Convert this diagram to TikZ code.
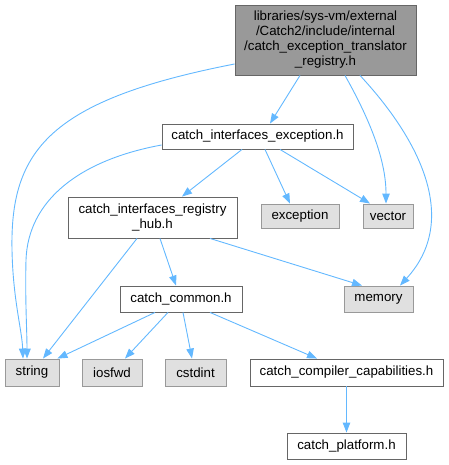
\documentclass[tikz,border=0pt]{standalone}
\usepackage{fontspec}
\setmainfont{Liberation Sans}
\usetikzlibrary{arrows.meta}
\definecolor{edgecol}{HTML}{63B8FF}
\definecolor{topfill}{HTML}{999999}
\definecolor{darkborder}{HTML}{666666}
\definecolor{grayfill}{HTML}{E0E0E0}
\definecolor{grayborder}{HTML}{999999}
\begin{document}
\begin{tikzpicture}[x=1pt,y=-1pt,
  box/.style={draw=darkborder,fill=white,line width=0.9pt,inner sep=0pt,align=center,
    font=\fontsize{13.3}{15}\selectfont,text=black},
  sysbox/.style={box,draw=grayborder,fill=grayfill},
  topbox/.style={box,draw=darkborder,fill=topfill},
  dep/.style={draw=edgecol,line width=0.9pt,-{Triangle[length=10pt,width=7.5pt]}}]
\useasboundingbox (0,0) rectangle (448,465);
\node[topbox,minimum width=181pt,minimum height=70pt] (top) at (325.5,40)
  {libraries/sys-vm/external\\/Catch2/include/internal\\/catch\_exception\_translator\\\_registry.h};
\node[box,minimum width=191pt,minimum height=25pt] (cie) at (257.5,136.5) {catch\_interfaces\_exception.h};
\node[box,minimum width=169pt,minimum height=41pt] (hub) at (152.5,217.5) {catch\_interfaces\_registry\\\_hub.h};
\node[sysbox,minimum width=78pt,minimum height=24pt] (exc) at (300,216) {exception};
\node[sysbox,minimum width=50pt,minimum height=24pt] (vec) at (388,216) {vector};
\node[sysbox,minimum width=69pt,minimum height=26pt] (mem) at (378.5,299) {memory};
\node[box,minimum width=122pt,minimum height=26pt] (common) at (181,299) {catch\_common.h};
\node[sysbox,minimum width=54pt,minimum height=27pt] (string) at (32,372.5) {string};
\node[sysbox,minimum width=60pt,minimum height=27pt] (iosfwd) at (112,372.5) {iosfwd};
\node[sysbox,minimum width=61pt,minimum height=27pt] (cstdint) at (195.5,372.5) {cstdint};
\node[box,minimum width=193pt,minimum height=27pt] (comp) at (346.5,372.5) {catch\_compiler\_capabilities.h};
\node[box,minimum width=119pt,minimum height=26pt] (plat) at (346.5,446) {catch\_platform.h};

\draw[dep] ([xshift=-25.5pt]top.south) -- ([xshift=12.5pt]cie.north);
\draw[dep] ([yshift=-24pt]top.west) .. controls (50,100) and (10,150) .. (12,250)
  .. controls (13,300) and (22,330) .. ([xshift=-9pt]string.north);
\draw[dep] ([xshift=19.5pt]top.south) .. controls (370,120) and (386,160) .. ([xshift=-2pt]vec.north);
\draw[dep] ([xshift=34.5pt]top.south) .. controls (420,140) and (460,220) .. ([xshift=21.5pt]mem.north);
\draw[dep] ([yshift=-8.5pt]cie.west) .. controls (80,160) and (28,200) .. (26,260)
  .. controls (25,300) and (27,330) .. ([xshift=-5pt]string.north);
\draw[dep] ([xshift=-15.5pt]cie.south) -- ([xshift=29.5pt]hub.north);
\draw[dep] ([xshift=7.5pt]cie.south) -- ([xshift=-10pt]exc.north);
\draw[dep] ([xshift=22.5pt]cie.south) -- ([xshift=-18pt]vec.north);
\draw[dep] ([xshift=-15.5pt]hub.south) -- ([xshift=11pt]string.north);
\draw[dep] ([xshift=7.5pt]hub.south) -- ([xshift=-5pt]common.north);
\draw[dep] ([xshift=57.5pt]hub.south) -- ([xshift=-16.5pt]mem.north);
\draw[dep] ([xshift=-26pt]common.south) -- ([xshift=-2pt]string.north east);
\draw[dep] ([xshift=-13pt]common.south) -- ([xshift=13pt]iosfwd.north);
\draw[dep] ([xshift=2pt]common.south) -- ([xshift=-3.5pt]cstdint.north);
\draw[dep] ([xshift=29pt]common.south) -- ([xshift=-29.5pt]comp.north);
\draw[dep] (comp.south) -- (plat.north);
\end{tikzpicture}
\end{document}
